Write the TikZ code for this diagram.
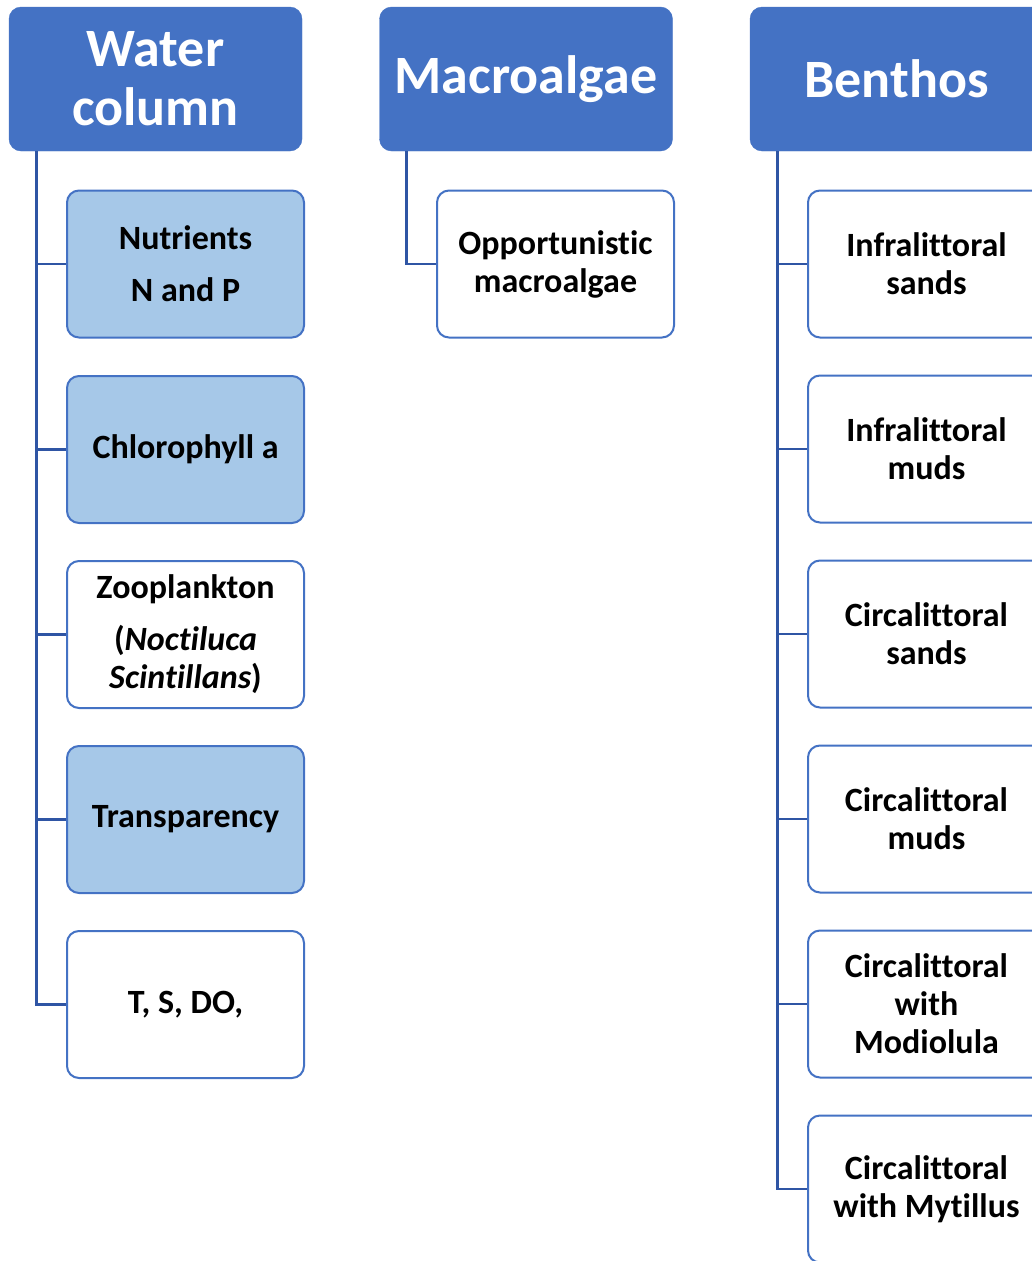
\documentclass[tikz,border=0pt]{standalone}
\usepackage{fontspec}
\setmainfont{Carlito}[Ligatures=NoCommon]
\usepackage{tikz}
\usetikzlibrary{positioning}

\definecolor{hdblue}{HTML}{4472C4}
\definecolor{lightblue}{HTML}{A6C8E8}
\definecolor{linkblue}{HTML}{2F55A4}

\tikzset{
  header/.style={rectangle, rounded corners=12pt, fill=hdblue, draw=hdblue, text=white,
    minimum width=293pt, minimum height=144pt, inner sep=0pt, align=center,
    font=\fontsize{54}{59}\selectfont\bfseries},
  item/.style={rectangle, rounded corners=12pt, fill=white, draw=hdblue, line width=2pt,
    minimum width=237pt, minimum height=147pt, inner sep=0pt, align=center,
    font=\fontsize{34}{38}\selectfont\bfseries},
  shaded/.style={item, fill=lightblue},
  link/.style={draw=linkblue, line width=2.8pt}
}

\begin{document}
\begin{tikzpicture}[x=1pt, y=-1pt]
  \useasboundingbox (0,0) rectangle (1031,1261);
  % Headers
  \node[header] (water)   at (155.5,79) {Water\\column};
  \node[header] (macro)   at (526,79)   {Macroalgae};
  \node[header] (benthos) at (896.5,79) {Benthos};
  % Water column items
  \node[shaded] (w1) at (185.5,264)   {Nutrients\\[14pt]N and P};
  \node[shaded] (w2) at (185.5,449.5) {Chlorophyll a};
  \node[item]   (w3) at (185.5,634.5) {Zooplankton\\[14pt](\textit{Noctiluca}\\\textit{Scintillans})};
  \node[shaded] (w4) at (185.5,819.5) {Transparency};
  \node[item]   (w5) at (185.5,1004.5) {T, S, DO,};
  % Macroalgae item
  \node[item] (m1) at (555.5,264) {Opportunistic\\macroalgae};
  % Benthos items
  \node[item] (b1) at (926.5,264)  {Infralittoral\\sands};
  \node[item] (b2) at (926.5,449)  {Infralittoral\\muds};
  \node[item] (b3) at (926.5,634)  {Circalittoral\\sands};
  \node[item] (b4) at (926.5,819)  {Circalittoral\\muds};
  \node[item] (b5) at (926.5,1004) {Circalittoral\\with\\Modiolula};
  \node[item] (b6) at (926.5,1189) {Circalittoral\\with Mytillus};
  % Connectors
  \foreach \i in {1,...,5}
    \draw[link] ([xshift=28pt]water.south west) |- (w\i.west);
  \draw[link] ([xshift=27pt]macro.south west) |- (m1.west);
  \foreach \i in {1,...,6}
    \draw[link] ([xshift=28pt]benthos.south west) |- (b\i.west);
\end{tikzpicture}
\end{document}
